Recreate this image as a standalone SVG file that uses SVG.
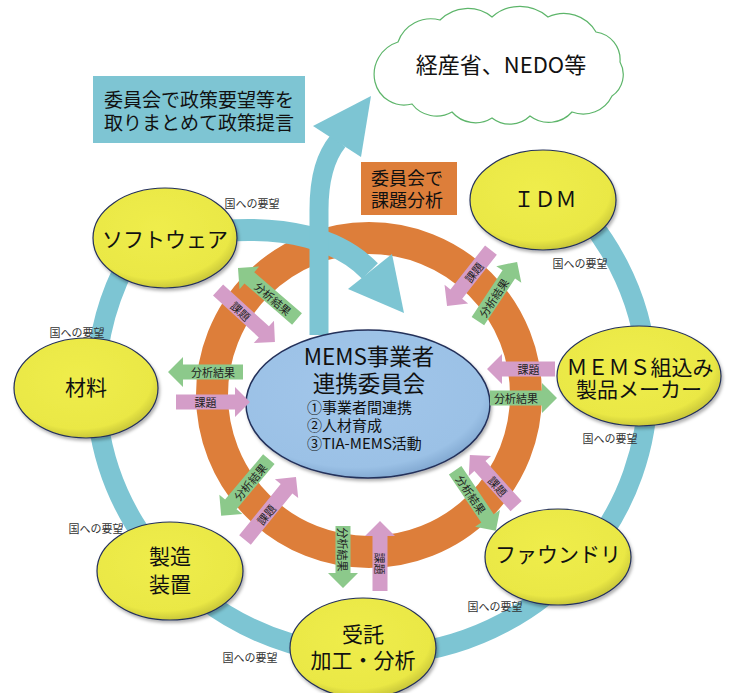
<svg xmlns="http://www.w3.org/2000/svg" width="729" height="693" viewBox="0 0 729 693">
<defs>
<radialGradient id="yel" cx="45%" cy="40%" r="62%">
<stop offset="0" stop-color="#EFED4C"/>
<stop offset="0.82" stop-color="#EAE845"/>
<stop offset="1" stop-color="#C4C238"/>
</radialGradient>
<radialGradient id="blu" cx="45%" cy="40%" r="62%">
<stop offset="0" stop-color="#A2C6EA"/>
<stop offset="0.85" stop-color="#9BC1E6"/>
<stop offset="1" stop-color="#7FA6CF"/>
</radialGradient>
<filter id="sh" x="-10%" y="-10%" width="125%" height="130%">
<feDropShadow dx="1.5" dy="2.5" stdDeviation="1.5" flood-color="#000" flood-opacity="0.3"/>
</filter>
</defs>
<style>
text{font-family:"Noto Sans CJK JP","Noto Sans",sans-serif;fill:#111;}
.node{fill:url(#yel);stroke:#24305A;stroke-width:1.2;filter:url(#sh);}
.nt{font-size:21px;text-anchor:middle;dominant-baseline:central;}
.req{font-size:11px;fill:#333;text-anchor:middle;dominant-baseline:central;}
.g{fill:#8CC98B;}
.p{fill:#D49DC8;}
.at{font-size:11px;fill:#222;text-anchor:middle;dominant-baseline:central;}
.teal{fill:none;stroke:#7DC5D3;}
</style>

<g id="connectors">
<path id="outer-ring" class="teal" stroke-width="20" d="M 556.7 186.6 A 276 269 0 1 1 149.8 226.6"/>
<circle id="inner-ring" cx="369" cy="395" r="157" fill="none" stroke="#DD7E3A" stroke-width="32"/>
<path class="teal" stroke-width="22" d="M 222 231 C 285 226, 338 238, 370 271"/>
<polygon fill="#7DC5D3" points="392,254 404,313 348,289"/>
<path class="teal" stroke-width="19" d="M 319 335 L 319 210 C 319 176, 326 156, 338 141"/>
<polygon fill="#7DC5D3" points="313,126 371,96 361,157"/>
</g>

<g id="committee">
<ellipse cx="368" cy="404" rx="122" ry="74" fill="url(#blu)" stroke="#24305A" stroke-width="1.5" filter="url(#sh)"/>
<text dominant-baseline="central"><tspan x="369" y="355" font-size="22.5" text-anchor="middle">MEMS事業者</tspan><tspan x="369" y="382" font-size="22.5" text-anchor="middle">連携委員会</tspan><tspan x="307" y="406" font-size="15">①事業者間連携</tspan><tspan x="307" y="424" font-size="15">②人材育成</tspan><tspan x="307" y="442" font-size="15">③TIA-MEMS活動</tspan></text>
</g>

<g id="node-software">
<ellipse class="node" cx="165" cy="238" rx="72" ry="50"/>
<text class="nt" x="165" y="238">ソフトウェア</text>
</g>
<g id="node-material">
<ellipse class="node" cx="86" cy="388" rx="72" ry="50"/>
<text class="nt" x="86" y="386">材料</text>
</g>
<g id="node-equipment">
<ellipse class="node" cx="170" cy="571" rx="73" ry="49"/>
<text class="nt" font-size="22"><tspan x="170" y="555">製造</tspan><tspan x="170" y="583">装置</tspan></text>
</g>
<g id="node-contract">
<ellipse class="node" cx="363" cy="648" rx="73" ry="50"/>
<text class="nt"><tspan x="363" y="633">受託</tspan><tspan x="363" y="659">加工・分析</tspan></text>
</g>
<g id="node-foundry">
<ellipse class="node" cx="558" cy="557" rx="73" ry="48"/>
<text class="nt" x="558" y="553">ファウンドリ</text>
</g>
<g id="node-maker">
<ellipse class="node" cx="639" cy="376" rx="82" ry="50"/>
<text class="nt" font-size="16.5"><tspan x="640" y="366">ＭＥＭＳ組込み</tspan><tspan x="639" y="388">製品メーカー</tspan></text>
</g>
<g id="node-idm">
<ellipse class="node" cx="543" cy="200" rx="73" ry="50"/>
<text class="nt" x="545" y="198" font-size="19">ＩＤＭ</text>
</g>

<g id="flows">
<g transform="translate(205.5,372) rotate(180)"><polygon class="g" points="-37.5,-7.5 22.5,-7.5 22.5,-15 37.5,0 22.5,15 22.5,7.5 -37.5,7.5"/><text class="at" transform="translate(-7.5,0) rotate(180)">分析結果</text></g>
<g transform="translate(213,402)"><polygon class="p" points="-37,-7.5 22,-7.5 22,-15 37,0 22,15 22,7.5 -37,7.5"/><text class="at" transform="translate(-7.5,0)">課題</text></g>
<g transform="translate(521,369) rotate(180)"><polygon class="p" points="-34,-7.5 19,-7.5 19,-15 34,0 19,15 19,7.5 -34,7.5"/><text class="at" transform="translate(-7.5,0) rotate(180)">課題</text></g>
<g transform="translate(523.5,398)"><polygon class="g" points="-33.5,-7.5 18.5,-7.5 18.5,-15 33.5,0 18.5,15 18.5,7.5 -33.5,7.5"/><text class="at" transform="translate(-7.5,0)">分析結果</text></g>
<g transform="translate(267.5,293.5) rotate(220.8)"><polygon class="g" points="-39,-7.5 24,-7.5 24,-15 39,0 24,15 24,7.5 -39,7.5"/><text class="at" transform="translate(-7.5,0) rotate(180)">分析結果</text></g>
<g transform="translate(246.5,316) rotate(42.4)"><polygon class="p" points="-38.5,-7.5 23.5,-7.5 23.5,-15 38.5,0 23.5,15 23.5,7.5 -38.5,7.5"/><text class="at" transform="translate(-7.5,0)">課題</text></g>
<g transform="translate(469,278) rotate(128.2)"><polygon class="p" points="-35.5,-7.5 20.5,-7.5 20.5,-15 35.5,0 20.5,15 20.5,7.5 -35.5,7.5"/><text class="at" transform="translate(-7.5,0) rotate(180)">課題</text></g>
<g transform="translate(497.5,291.5) rotate(-56.5)"><polygon class="g" points="-35.5,-7.5 20.5,-7.5 20.5,-15 35.5,0 20.5,15 20.5,7.5 -35.5,7.5"/><text class="at" transform="translate(-7.5,0)">分析結果</text></g>
<g transform="translate(245,487.5) rotate(130.1)"><polygon class="g" points="-37,-7.5 22,-7.5 22,-15 37,0 22,15 22,7.5 -37,7.5"/><text class="at" transform="translate(-7.5,0) rotate(180)">分析結果</text></g>
<g transform="translate(270.5,508.5) rotate(-51)"><polygon class="p" points="-40.5,-7.5 25.5,-7.5 25.5,-15 40.5,0 25.5,15 25.5,7.5 -40.5,7.5"/><text class="at" transform="translate(-7.5,0)">課題</text></g>
<g transform="translate(343,557) rotate(90)"><polygon class="g" points="-31,-7.5 16,-7.5 16,-15 31,0 16,15 16,7.5 -31,7.5"/><text class="at" transform="translate(-7.5,0)">分析結果</text></g>
<g transform="translate(380,556) rotate(-90)"><polygon class="p" points="-35,-7.5 20,-7.5 20,-15 35,0 20,15 20,7.5 -35,7.5"/><text class="at" transform="translate(-7.5,0) rotate(180)">課題</text></g>
<g transform="translate(475.5,500.5) rotate(56.1)"><polygon class="g" points="-36.5,-7.5 21.5,-7.5 21.5,-15 36.5,0 21.5,15 21.5,7.5 -36.5,7.5"/><text class="at" transform="translate(-7.5,0)">分析結果</text></g>
<g transform="translate(493,480.5) rotate(227.9)"><polygon class="p" points="-34.5,-7.5 19.5,-7.5 19.5,-15 34.5,0 19.5,15 19.5,7.5 -34.5,7.5"/><text class="at" transform="translate(-7.5,0) rotate(180)">課題</text></g>
</g>

<g id="box-policy">
<rect x="93" y="76" width="212" height="67" fill="#7EC5D3"/>
<text font-size="19" text-anchor="middle" dominant-baseline="central"><tspan x="199" y="98">委員会で政策要望等を</tspan><tspan x="199" y="121">取りまとめて政策提言</tspan></text>
</g>
<g id="box-analysis">
<rect x="361" y="162" width="96" height="53" fill="#DD7E3A"/>
<text font-size="18" text-anchor="middle" dominant-baseline="central"><tspan x="407" y="177">委員会で</tspan><tspan x="407" y="199">課題分析</tspan></text>
</g>
<g id="cloud-meti">
<path fill="#fff" stroke="#5DB56A" stroke-width="1.2" d="M 375 82 A 34 34 0 0 1 398 42 A 35 35 0 0 1 440 20 A 39 39 0 0 1 492 17 A 42 42 0 0 1 548 17 A 37 37 0 0 1 596 32 A 28 28 0 0 1 620 62 A 26 26 0 0 1 612 96 A 32 32 0 0 1 572 112 A 31 31 0 0 1 530 116 A 29 29 0 0 1 492 118 A 31 31 0 0 1 452 112 A 31 31 0 0 1 412 104 A 30 30 0 0 1 375 82 Z"/>
<text x="501" y="63" font-size="22" text-anchor="middle" dominant-baseline="central">経産省、NEDO等</text>
</g>

<g id="requests">
<text class="req" x="252" y="203">国への要望</text>
<text class="req" x="77" y="332">国への要望</text>
<text class="req" x="580" y="263">国への要望</text>
<text class="req" x="610" y="438">国への要望</text>
<text class="req" x="96" y="528">国への要望</text>
<text class="req" x="495" y="606">国への要望</text>
<text class="req" x="250" y="657">国への要望</text>
</g>
</svg>
